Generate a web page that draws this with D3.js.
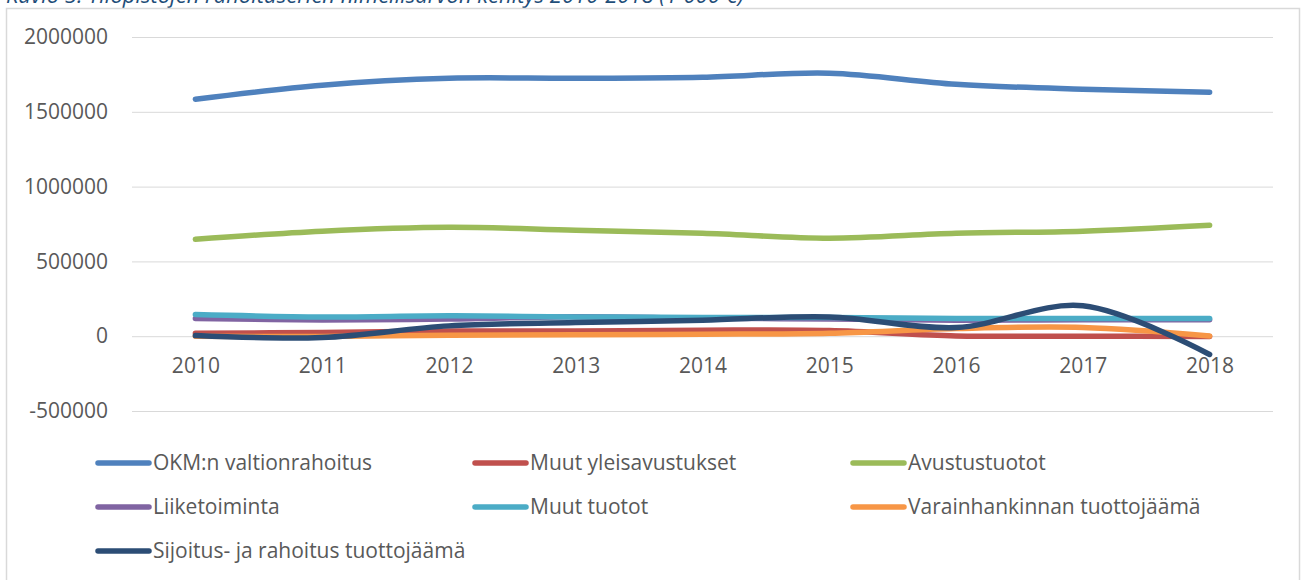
<!DOCTYPE html>
<html>
<head>
<meta charset="utf-8">
<script src="https://cdn.jsdelivr.net/npm/d3@7"></script>
<style>
  body { margin: 0; background: #fff; }
  svg { display: block; font-family: "Open Sans", sans-serif; }
</style>
</head>
<body>
<svg width="1302" height="580"></svg>
<script>
var years = ['2010', '2011', '2012', '2013', '2014', '2015', '2016', '2017', '2018'];
var yTicks = [-500000, 0, 500000, 1000000, 1500000, 2000000];

var okm = [1584000, 1678000, 1724000, 1724000, 1731000, 1758000, 1684000, 1651000, 1631000];
var yleisavustukset = [20000, 25000, 35000, 35000, 40000, 38000, 2000, 0, -2000];
var avustustuotot = [648000, 702000, 728000, 708000, 688000, 655000, 688000, 702000, 742000];
var liiketoiminta = [118000, 109000, 115000, 130000, 120000, 115000, 107000, 110000, 110000];
var muutTuotot = [145000, 129000, 136000, 129000, 125000, 125000, 118000, 118000, 118000];
var varainhankinta = [0, -2000, 7000, 9000, 13000, 20000, 51000, 58000, 2000];
var sijoitus = [4000, -9000, 69000, 91000, 107000, 129000, 58000, 203000, -122000];

var seriesNames = ['OKM:n valtionrahoitus', 'Muut yleisavustukset', 'Avustustuotot',
  'Liiketoiminta', 'Muut tuotot', 'Varainhankinnan tuottojäämä', 'Sijoitus- ja rahoitus tuottojäämä'];
var colors = ['#4f81bd', '#c0504d', '#9bbb59', '#8064a2', '#4bacc6', '#f79646', '#2c4d75'];

var series = [okm, yleisavustukset, avustustuotot, liiketoiminta, muutTuotot, varainhankinta, sijoitus]
  .map(function(vals, i) {
    return { name: seriesNames[i], color: colors[i], values: vals };
  });

var svg = d3.select('svg');

// caption, cut off at the top of the picture (as in the source)
svg.append('text')
  .attr('x', 6)
  .attr('y', 3)
  .attr('font-size', 22)
  .attr('font-style', 'italic')
  .attr('fill', '#1f4e79')
  .text('Kuvio 5. Yliopistojen rahoituserien nimellisarvon kehitys 2010-2018 (1 000 €)');

// chart border
svg.append('rect')
  .attr('x', 6.5)
  .attr('y', 8.5)
  .attr('width', 1293)
  .attr('height', 620)
  .attr('fill', '#fff')
  .attr('stroke', '#d9d9d9')
  .attr('stroke-width', 1.5);

var x = d3.scalePoint().domain(years).range([132, 1273]).padding(0.5);
var y = d3.scaleLinear().domain([-500000, 2000000]).range([411, 37]);

// gridlines + y labels
var yAxis = svg.append('g')
  .attr('transform', 'translate(132,0)')
  .call(d3.axisLeft(y).tickValues(yTicks).tickSize(-1141).tickPadding(24)
    .tickFormat(function(d) { return String(d); }));
yAxis.select('.domain').remove();
yAxis.selectAll('line').attr('stroke', '#d9d9d9').attr('stroke-width', 1);
yAxis.selectAll('text').attr('font-size', 21).attr('fill', '#595959')
  .attr('font-family', '"Open Sans", sans-serif');

// x labels below the zero line
var xAxis = svg.append('g')
  .attr('transform', 'translate(0,' + y(0) + ')')
  .call(d3.axisBottom(x).tickSize(0).tickPadding(22));
xAxis.select('.domain').remove();
xAxis.selectAll('text').attr('font-size', 21).attr('fill', '#595959')
  .attr('font-family', '"Open Sans", sans-serif');

var line = d3.line()
  .x(function(d, i) { return x(years[i]); })
  .y(function(d) { return y(d); })
  .curve(d3.curveCatmullRom.alpha(0.5));

svg.append('g')
  .selectAll('path')
  .data(series)
  .enter()
  .append('path')
  .attr('d', function(d) { return line(d.values); })
  .attr('fill', 'none')
  .attr('stroke', function(d) { return d.color; })
  .attr('stroke-width', 5.5)
  .attr('stroke-linecap', 'round')
  .attr('stroke-linejoin', 'round');

// legend, three columns
var colX = [96, 473, 851];
var rowY = [463, 507, 551];

var legend = svg.append('g')
  .selectAll('g')
  .data(series)
  .enter()
  .append('g')
  .attr('transform', function(d, i) {
    return 'translate(' + colX[i % 3] + ',' + rowY[Math.floor(i / 3)] + ')';
  });

legend.append('line')
  .attr('x1', 2)
  .attr('x2', 53)
  .attr('stroke', function(d) { return d.color; })
  .attr('stroke-width', 5.5)
  .attr('stroke-linecap', 'round');

legend.append('text')
  .attr('x', 57)
  .attr('dy', '0.35em')
  .attr('font-size', 21)
  .attr('fill', '#595959')
  .text(function(d) { return d.name; });
</script>
</body>
</html>
